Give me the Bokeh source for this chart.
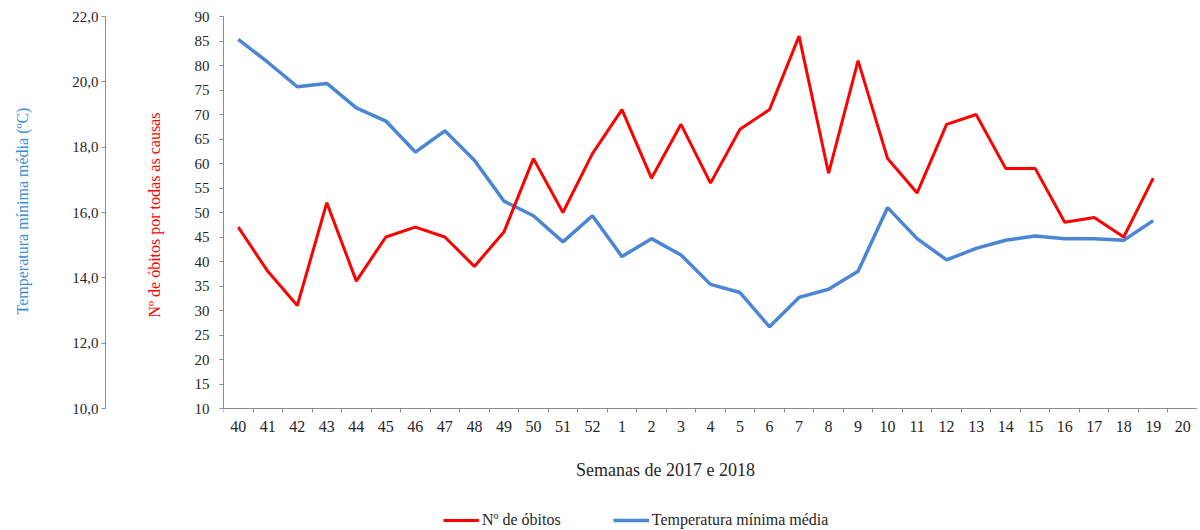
from bokeh.plotting import figure
from bokeh.models import Range1d, LinearAxis, FixedTicker, Legend, LegendItem, Label
from bokeh.embed import file_html
from bokeh.resources import INLINE

weeks = ["40", "41", "42", "43", "44", "45", "46", "47", "48", "49", "50", "51", "52",
         "1", "2", "3", "4", "5", "6", "7", "8", "9", "10", "11", "12", "13", "14", "15",
         "16", "17", "18", "19", "20"]
deaths = [47, 38, 31, 52, 36, 45, 47, 45, 39, 46, 61, 50, 62, 71, 57, 68, 56, 67, 71, 86,
          58, 81, 61, 54, 68, 70, 59, 59, 48, 49, 45, 57]
temps = [21.3, 20.6, 19.85, 19.95, 19.2, 18.8, 17.85, 18.5, 17.6, 16.35, 15.9, 15.1, 15.9,
         14.65, 15.2, 14.7, 13.8, 13.55, 12.5, 13.4, 13.65, 14.2, 16.15, 15.2, 14.55, 14.9,
         15.15, 15.28, 15.2, 15.2, 15.15, 15.75]
death_ticks = list(range(10, 95, 5))
temp_ticks = [10, 12, 14, 16, 18, 20, 22]
temp_labels = ["10,0", "12,0", "14,0", "16,0", "18,0", "20,0", "22,0"]
x_title = "Semanas de 2017 e 2018"
deaths_title = "Nº de óbitos por todas as causas"
temp_title = "Temperatura mínima média (ºC)"
series_names = ["Nº de óbitos", "Temperatura mínima média"]

FONT = "Liberation Serif"
AXIS_COLOR = "#8C8C8C"
TEXT_COLOR = "#262626"
RED = "#FF0000"
BLUE = "#4A86D4"
BLUE_TEXT = "#3A8DDA"
NBSP = "\u00a0"

# layout: plotting area 392px tall for the axes, plus an extra strip below
AXIS_H = 392
EXTRA_H = 121
D_MIN, D_MAX = death_ticks[0], death_ticks[-1]
T_MIN, T_MAX = temp_ticks[0], temp_ticks[-1]
d_start = D_MIN - EXTRA_H * (D_MAX - D_MIN) / AXIS_H
t_start = T_MIN - EXTRA_H * (T_MAX - T_MIN) / AXIS_H

n = len(weeks)
xs = list(range(len(deaths)))

p = figure(frame_width=974, frame_height=AXIS_H + EXTRA_H,
           x_range=Range1d(-0.5, n - 0.5), y_range=Range1d(d_start, D_MAX),
           output_backend="svg", toolbar_location=None,
           min_border_left=223, min_border_right=0, min_border_top=16, min_border_bottom=0)
p.extra_y_ranges = {"temp": Range1d(t_start, T_MAX)}
p.xgrid.visible = False
p.ygrid.visible = False
p.outline_line_color = None
p.background_fill_color = "white"

r_blue = p.line(xs, temps, color=BLUE, line_width=3.5, y_range_name="temp")
r_red = p.line(xs, deaths, color=RED, line_width=3)

# x axis: labels at category centres, ticks at category boundaries
xa = p.xaxis[0]
xa.fixed_location = D_MIN
xa.ticker = FixedTicker(ticks=list(range(n)), minor_ticks=[i - 0.5 for i in range(n + 1)])
xa.major_label_overrides = {i: w for i, w in enumerate(weeks)}
xa.major_tick_out = 0
xa.major_tick_in = 0
xa.minor_tick_out = 4
xa.minor_tick_in = 0
xa.minor_tick_line_color = AXIS_COLOR
xa.axis_line_color = AXIS_COLOR
xa.major_label_text_font = FONT
xa.major_label_text_font_size = "16px"
xa.major_label_text_color = TEXT_COLOR
xa.major_label_standoff = 8

# deaths axis (inner left); leading no-break spaces lift the title to the axis middle
ya = p.yaxis[0]
ya.bounds = (D_MIN, D_MAX)
ya.ticker = FixedTicker(ticks=death_ticks)
ya.major_tick_out = 4
ya.major_tick_in = 0
ya.minor_tick_line_color = None
ya.axis_line_color = AXIS_COLOR
ya.major_tick_line_color = AXIS_COLOR
ya.major_label_text_font = FONT
ya.major_label_text_font_size = "15px"
ya.major_label_text_color = TEXT_COLOR
ya.major_label_standoff = 10
ya.axis_label = NBSP * 29 + deaths_title
ya.axis_label_text_font = FONT
ya.axis_label_text_font_size = "16px"
ya.axis_label_text_font_style = "normal"
ya.axis_label_text_color = RED
ya.axis_label_standoff = 29

# invisible spacer between the two left axes (white tick, no text)
spacer = LinearAxis(y_range_name="temp", ticker=FixedTicker(ticks=[T_MIN]),
                    bounds=(T_MIN, T_MAX),
                    major_label_overrides={T_MIN: ""},
                    axis_line_color=None, major_tick_line_color="white",
                    minor_tick_line_color=None, major_tick_out=37, major_tick_in=0,
                    major_label_standoff=0)
p.add_layout(spacer, "left")

# temperature axis (outer left)
ta = LinearAxis(y_range_name="temp", ticker=FixedTicker(ticks=temp_ticks), bounds=(T_MIN, T_MAX),
                major_label_overrides={t: l for t, l in zip(temp_ticks, temp_labels)})
ta.major_tick_out = 4
ta.major_tick_in = 0
ta.minor_tick_line_color = None
ta.axis_line_color = AXIS_COLOR
ta.major_tick_line_color = AXIS_COLOR
ta.major_label_text_font = FONT
ta.major_label_text_font_size = "15px"
ta.major_label_text_color = TEXT_COLOR
ta.major_label_standoff = 3
ta.axis_label = NBSP * 31 + temp_title
ta.axis_label_text_font = FONT
ta.axis_label_text_font_size = "16px"
ta.axis_label_text_font_style = "normal"
ta.axis_label_text_color = BLUE_TEXT
ta.axis_label_standoff = 38
p.add_layout(ta, "left")

# x title (screen units, relative to the frame's bottom-left corner)
xt = Label(x=442, y=EXTRA_H - 61, x_units="screen", y_units="screen", text=x_title,
           text_align="center", text_baseline="middle",
           text_font=FONT, text_font_size="18px", text_font_style="normal",
           text_color=TEXT_COLOR)
p.add_layout(xt)

legend = Legend(items=[LegendItem(label=series_names[0], renderers=[r_red]),
                       LegendItem(label=series_names[1], renderers=[r_blue])],
                orientation="horizontal", location=(220, 0),
                border_line_color=None, background_fill_alpha=0,
                glyph_width=36, glyph_height=16, label_standoff=3, spacing=52,
                label_text_font=FONT, label_text_font_size="16px",
                label_text_color=TEXT_COLOR, padding=0, margin=0)
p.add_layout(legend)

open("out.html", "w").write(file_html(p, INLINE))
